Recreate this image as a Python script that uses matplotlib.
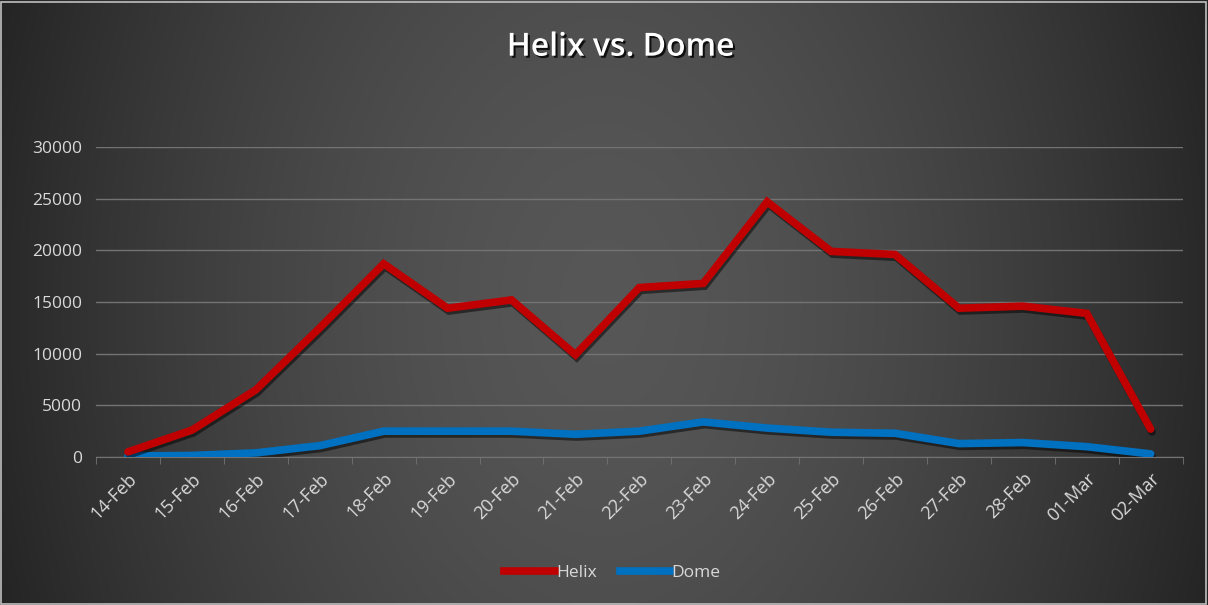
import numpy as np
import matplotlib.pyplot as plt
import matplotlib.patheffects as pe
from matplotlib.lines import Line2D
from matplotlib.patches import Rectangle

# ------------------------------------
# DATA
# ------------------------------------
dates = ["14-Feb", "15-Feb", "16-Feb", "17-Feb", "18-Feb", "19-Feb", "20-Feb",
         "21-Feb", "22-Feb", "23-Feb", "24-Feb", "25-Feb", "26-Feb", "27-Feb",
         "28-Feb", "01-Mar", "02-Mar"]
helix = [500, 2600, 6500, 12500, 18700, 14400, 15200, 9900, 16400, 16800,
         24700, 19900, 19600, 14400, 14600, 13900, 2700]
dome = [100, 150, 400, 1100, 2500, 2500, 2500, 2200, 2500, 3400,
        2800, 2400, 2300, 1300, 1400, 1000, 300]
y_ticks = [0, 5000, 10000, 15000, 20000, 25000, 30000]

TEXT = "#d9d9d9"
GRID = "#737373"
RED = "#c00000"
BLUE = "#0070c0"

fig = plt.figure(figsize=(12.08, 6.05), dpi=100)

# background: dark gradient, lighter toward the middle
bg = fig.add_axes([0, 0, 1, 1], zorder=-10)
gx, gy = np.meshgrid(np.linspace(-1, 1, 600), np.linspace(-1, 1, 300))
r = np.sqrt(gx ** 2 + (gy * 0.35) ** 2)
shade = 0.34 - 0.18 * np.clip(r, 0, 1.2) ** 1.6
bg.imshow(np.dstack([shade] * 3).clip(0, 1), aspect="auto",
          extent=[0, 1, 0, 1], interpolation="bilinear")
bg.set_axis_off()
fig.patches.append(Rectangle((0.001, 0.002), 0.997, 0.995, transform=fig.transFigure,
                             fill=False, edgecolor="#bfbfbf", linewidth=1.2))

ax = fig.add_axes([0.0795, 0.2446, 0.8995, 0.5124])
ax.set_facecolor("none")
x = np.arange(len(dates))

shadow = [pe.SimpleLineShadow(offset=(1.0, -2.0), shadow_color="black", alpha=0.5), pe.Normal()]
ax.plot(x, helix, color=RED, linewidth=5.5, solid_joinstyle="miter",
        solid_capstyle="round", path_effects=shadow, zorder=4)
ax.plot(x, dome, color=BLUE, linewidth=5.5, solid_joinstyle="miter",
        solid_capstyle="round", path_effects=shadow, zorder=3)

ax.set_xlim(-0.5, len(dates) - 0.5)
ax.set_ylim(0, 30000)
ax.set_yticks(y_ticks)
ax.set_yticklabels([str(v) for v in y_ticks], fontsize=12.5, color=TEXT, family="Open Sans")
ax.set_xticks(x)
ax.set_xticklabels(dates, rotation=45, ha="right", rotation_mode="anchor",
                   fontsize=13, color=TEXT, family="Open Sans")
ax.tick_params(axis="x", length=0, pad=9)
ax.set_xticks(np.arange(-0.5, len(dates)), minor=True)
ax.tick_params(axis="x", which="minor", length=5, color=GRID)
ax.tick_params(axis="y", length=0, pad=10)
ax.grid(axis="y", color=GRID, linewidth=1)
ax.set_axisbelow(True)
for side in ["top", "right", "left"]:
    ax.spines[side].set_visible(False)
ax.spines["bottom"].set_color(GRID)

fig.text(0.514, 0.922, "Helix vs. Dome", ha="center", va="center", fontsize=23,
         fontweight="semibold", color="white", family="Open Sans",
         path_effects=[pe.withSimplePatchShadow(offset=(1.5, -1.5), shadow_rgbFace="black", alpha=0.8)])

handles = [Line2D([], [], color=RED, linewidth=5.5), Line2D([], [], color=BLUE, linewidth=5.5)]
leg = fig.legend(handles, ["Helix", "Dome"], loc="center", bbox_to_anchor=(0.507, 0.053),
                 ncol=2, frameon=False, fontsize=12.5, handlelength=2.9,
                 handletextpad=0.1, columnspacing=1.3)
for t in leg.get_texts():
    t.set_color(TEXT)
    t.set_family("Open Sans")

fig.savefig("out.png", dpi=100)
